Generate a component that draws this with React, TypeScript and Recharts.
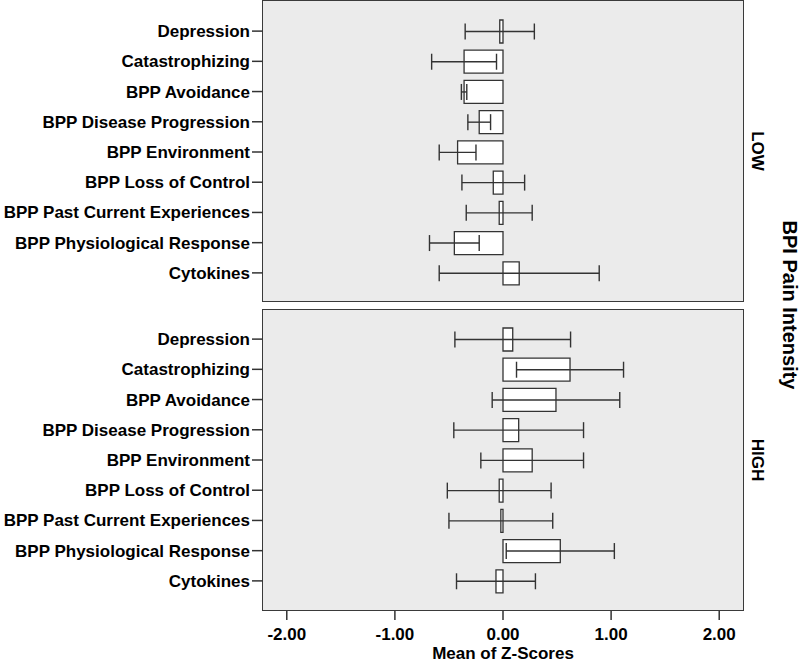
import { BarChart, Bar, XAxis, YAxis, ErrorBar, Label } from "recharts";

// row labels, top to bottom
const categories = [
  "Depression",
  "Catastrophizing",
  "BPP Avoidance",
  "BPP Disease Progression",
  "BPP Environment",
  "BPP Loss of Control",
  "BPP Past Current Experiences",
  "BPP Physiological Response",
  "Cytokines",
];

// mean z-scores and error half-widths
const lowMeans = [-0.03, -0.36, -0.36, -0.22, -0.42, -0.09, -0.035, -0.45, 0.15];
const lowErrors = [0.32, 0.3, 0.025, 0.105, 0.17, 0.29, 0.305, 0.23, 0.74];
const highMeans = [0.09, 0.62, 0.49, 0.145, 0.27, -0.035, -0.02, 0.53, -0.065];
const highErrors = [0.535, 0.495, 0.59, 0.6, 0.475, 0.48, 0.48, 0.5, 0.365];

const xTicks = [-2, -1, 0, 1, 2];
const domain: [number, number] = [-2.22, 2.22];

const FONT = "'Liberation Sans', Arial, sans-serif";
const INK = "#333";

const toRows = (means: number[], errs: number[]) =>
  categories.map((name, i) => ({ name, mean: means[i], err: errs[i] }));

const lowData = toRows(lowMeans, lowErrors);
const highData = toRows(highMeans, highErrors);

const tickStyle = { fontSize: 17, fontWeight: 700, fill: "#000", fontFamily: FONT };

function Panel({ data, showX }: { data: any[]; showX: boolean }) {
  const height = showX ? 362 : 303;
  return (
    <BarChart
      width={800}
      height={height}
      data={data}
      layout="vertical"
      margin={{ top: 1, right: 57, bottom: showX ? 0 : 0, left: 0 }}
    >
      <XAxis
        type="number"
        domain={domain}
        ticks={xTicks}
        allowDataOverflow
        hide={!showX}
        height={showX ? 59 : 0}
        tickFormatter={(v: number) => v.toFixed(2)}
        tick={tickStyle}
        tickSize={9}
        tickMargin={8}
        axisLine={false}
        tickLine={{ stroke: INK, strokeWidth: 1.5 }}
      >
        {showX && (
          <Label
            value="Mean of Z-Scores"
            position="insideBottom"
            offset={11}
            style={{ fontSize: 17, fontWeight: 700, fill: "#000", fontFamily: FONT }}
          />
        )}
      </XAxis>
      <YAxis
        type="category"
        dataKey="name"
        width={263}
        padding={{ top: 15, bottom: 15 }}
        tick={tickStyle}
        tickSize={11}
        tickMargin={2}
        axisLine={false}
        tickLine={{ stroke: INK, strokeWidth: 1.5 }}
        interval={0}
      />
      <Bar
        dataKey="mean"
        fill="#fff"
        stroke={INK}
        strokeWidth={1.3}
        barSize={23}
        isAnimationActive={false}
      >
        <ErrorBar dataKey="err" direction="x" width={8} stroke={INK} strokeWidth={1.4} />
      </Bar>
    </BarChart>
  );
}

const panelBox = (top: number): React.CSSProperties => ({
  position: "absolute",
  left: 262,
  top,
  width: 482,
  height: 302,
  boxSizing: "border-box",
  background: "#ebebeb",
  border: "1.5px solid #3a3a3a",
});

export default function App() {
  return (
    <div style={{ position: "absolute", left: 0, top: 0, width: 800, height: 670, background: "#fff", fontFamily: FONT }}>
      <div style={panelBox(0)} />
      <div style={panelBox(309)} />
      <div style={{ position: "absolute", left: 0, top: 0 }}>
        <Panel data={lowData} showX={false} />
      </div>
      <div style={{ position: "absolute", left: 0, top: 308 }}>
        <Panel data={highData} showX={true} />
      </div>
      <svg
        width={800}
        height={670}
        style={{ position: "absolute", left: 0, top: 0, pointerEvents: "none" }}
      >
        <g fontFamily={FONT} fontWeight={700} fill="#000" textAnchor="middle" dominantBaseline="central">
          <text x={757} y={151} fontSize={17} transform="rotate(90 757 151)">LOW</text>
          <text x={757} y={460} fontSize={17} transform="rotate(90 757 460)">HIGH</text>
          <text x={790} y={305} fontSize={20} transform="rotate(90 790 305)">BPI Pain Intensity</text>
        </g>
      </svg>
    </div>
  );
}
